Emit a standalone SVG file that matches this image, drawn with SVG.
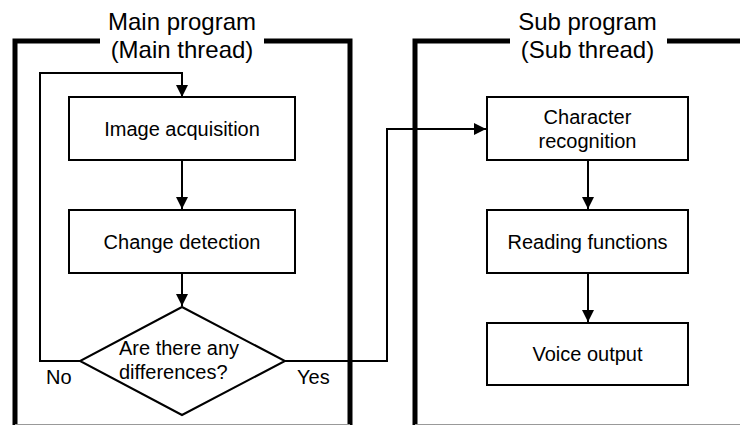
<svg xmlns="http://www.w3.org/2000/svg" width="740" height="425" viewBox="0 0 740 425">
<defs>
<style>
text{font-family:"Liberation Sans",Arial,sans-serif;fill:#000;}
.title{font-size:24px;text-anchor:middle;}
.lbl{font-size:20px;text-anchor:middle;}
.side{font-size:20px;}
.box{fill:#fff;stroke:#000;stroke-width:2;}
.frame{fill:none;stroke:#000;stroke-width:5;stroke-linejoin:miter;}
.edge{fill:none;stroke:#999;stroke-width:1;}
.conn{fill:none;stroke:#000;stroke-width:2;}
</style>
<marker id="arr" viewBox="0 0 12 12" refX="12" refY="6" markerWidth="12" markerHeight="12" markerUnits="userSpaceOnUse" orient="auto">
<path d="M0,0 L12,6 L0,12 Z" fill="#000"/>
</marker>
</defs>
<rect width="740" height="425" fill="#fff"/>
<g id="main-frame">
<path class="frame" d="M100,41 H15 V425"/>
<path class="frame" d="M264,41 H350 V425"/>
<path class="edge" d="M15,424.5 H350"/>
<text class="title" x="182" y="30">Main program</text>
<text class="title" x="182" y="58">(Main thread)</text>
</g>
<g id="sub-frame">
<path class="frame" d="M510,41 H415 V425"/>
<path class="frame" d="M667,41 H742"/>
<path class="edge" d="M415,424.5 H740"/>
<text class="title" x="587.5" y="30">Sub program</text>
<text class="title" x="587.5" y="58">(Sub thread)</text>
</g>
<g id="connectors">
<path class="conn" d="M80,361 H40 V73 H182 V97" marker-end="url(#arr)"/>
<path class="conn" d="M182,160 V209" marker-end="url(#arr)"/>
<path class="conn" d="M182,273 V306" marker-end="url(#arr)"/>
<path class="conn" d="M285,361 H387 V129 H486" marker-end="url(#arr)"/>
<path class="conn" d="M588,160 V209" marker-end="url(#arr)"/>
<path class="conn" d="M588,273 V322" marker-end="url(#arr)"/>
</g>
<g id="image-acquisition">
<rect class="box" x="69" y="97" width="226" height="63"/>
<text class="lbl" x="182" y="136">Image acquisition</text>
</g>
<g id="change-detection">
<rect class="box" x="69" y="210" width="226" height="63"/>
<text class="lbl" x="182" y="249">Change detection</text>
</g>
<g id="decision">
<polygon class="box" points="182,307 285,361 182,415 80,361"/>
<text class="side" x="119" y="355">Are there any</text>
<text class="side" x="119" y="379">differences?</text>
</g>
<text class="side" x="46" y="384">No</text>
<text class="side" x="297" y="384">Yes</text>
<g id="character-recognition">
<rect class="box" x="487" y="97" width="201" height="63"/>
<text class="lbl" x="587.5" y="124">Character</text>
<text class="lbl" x="587.5" y="148">recognition</text>
</g>
<g id="reading-functions">
<rect class="box" x="487" y="210" width="201" height="63"/>
<text class="lbl" x="587.5" y="249">Reading functions</text>
</g>
<g id="voice-output">
<rect class="box" x="487" y="323" width="201" height="62"/>
<text class="lbl" x="587.5" y="361">Voice output</text>
</g>
</svg>
